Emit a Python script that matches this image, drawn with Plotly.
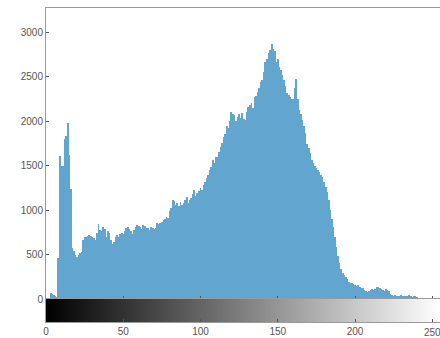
import plotly.graph_objects as go
from plotly.subplots import make_subplots

# Histogram counts per gray level (0..255)
counts = [
    0, 0, 0, 70, 60, 45, 30, 20, 465, 1610,
    1500, 1500, 1800, 1830, 1980, 1620, 1240, 575, 540, 495,
    475, 500, 520, 530, 660, 700, 700, 710, 720, 710,
    700, 690, 660, 740, 850, 780, 760, 810, 790, 700,
    760, 740, 660, 620, 645, 700, 720, 700, 730, 740,
    730, 760, 800, 813, 790, 760, 730, 776, 810, 833,
    820, 813, 790, 833, 820, 800, 800, 780, 813, 800,
    790, 800, 851, 840, 851, 870, 889, 900, 926, 910,
    990, 1030, 1114, 1100, 1060, 1076, 1050, 1095, 1060, 1076,
    1110, 1151, 1080, 1114, 1140, 1180, 1226, 1160, 1189, 1220,
    1245, 1230, 1283, 1320, 1357, 1400, 1451, 1485, 1564, 1530,
    1600, 1601, 1650, 1714, 1760, 1826, 1860, 1950, 1923, 2000,
    2107, 2080, 2070, 2000, 2051, 2080, 2040, 2090, 2030, 2014,
    2100, 2163, 2180, 2201, 2150, 2276, 2290, 2332, 2380, 2440,
    2464, 2560, 2670, 2700, 2764, 2800, 2876, 2820, 2790, 2670,
    2700, 2614, 2580, 2520, 2464, 2400, 2314, 2300, 2276, 2250,
    2257, 2380, 2482, 2250, 2126, 2080, 2014, 1950, 1864, 1750,
    1700, 1639, 1560, 1526, 1500, 1470, 1450, 1433, 1400, 1376,
    1320, 1264, 1200, 1114, 1000, 900, 813, 700, 589, 480,
    401, 340, 289, 270, 251, 220, 195, 185, 176, 165,
    157, 150, 157, 130, 125, 120, 100, 90, 80, 95,
    100, 110, 105, 110, 130, 140, 120, 110, 100, 95,
    110, 100, 90, 60, 40, 35, 40, 30, 35, 30,
    40, 35, 30, 35, 30, 40, 30, 25, 35, 30,
    20, 0, 0, 0, 0, 0, 0, 0, 0, 0,
    0, 0, 0, 0, 0, 0,
]
levels = list(range(256))
y_ticks = [0, 500, 1000, 1500, 2000, 2500, 3000]
x_ticks = [0, 50, 100, 150, 200, 250]

fig = make_subplots(rows=2, cols=1, shared_xaxes=True,
                    row_heights=[291, 23], vertical_spacing=0)

fig.add_trace(go.Bar(x=levels, y=counts, width=0.55,
                     marker=dict(color="#62a5cf", line=dict(width=0)),
                     showlegend=False), row=1, col=1)

fig.add_trace(go.Heatmap(x=levels, y=[0], z=[levels],
                         colorscale=[[0, "#000000"], [1, "#ffffff"]],
                         showscale=False, zmin=0, zmax=255), row=2, col=1)

axis_col = "#9a9a9a"
font = dict(family="Liberation Sans, Arial, sans-serif", size=10, color="#555555")

fig.update_layout(
    width=440, height=338,
    margin=dict(l=46, r=0, t=8, b=16),
    paper_bgcolor="white", plot_bgcolor="white",
    bargap=0, font=font,
)
fig.update_xaxes(range=[0, 255], showgrid=False, zeroline=False,
                 showline=True, linecolor=axis_col, linewidth=1, mirror=True,
                 ticks="inside", ticklen=3, tickcolor="#555555",
                 tickvals=x_ticks)
fig.update_xaxes(showticklabels=False, row=1, col=1)
fig.update_xaxes(showticklabels=True,
                 ticktext=[str(v) if v != 250 else "" for v in x_ticks],
                 tickfont=font, row=2, col=1)
# last tick label sits at the cropped right edge
fig.add_annotation(x=250, y=0, xref="x2", yref="paper", text="250",
                   showarrow=False, yanchor="top", yshift=-3, font=font)
fig.update_yaxes(range=[0, 3276], tickvals=y_ticks, showgrid=False, zeroline=False,
                 showline=True, linecolor=axis_col, linewidth=1, mirror=True,
                 ticks="inside", ticklen=3, tickcolor="#555555",
                 tickfont=font, row=1, col=1)
fig.update_yaxes(range=[-0.5, 0.5], showticklabels=False, showgrid=False,
                 zeroline=False, showline=True, linecolor=axis_col, mirror=True,
                 ticks="", row=2, col=1)

fig.write_html("out.html")
